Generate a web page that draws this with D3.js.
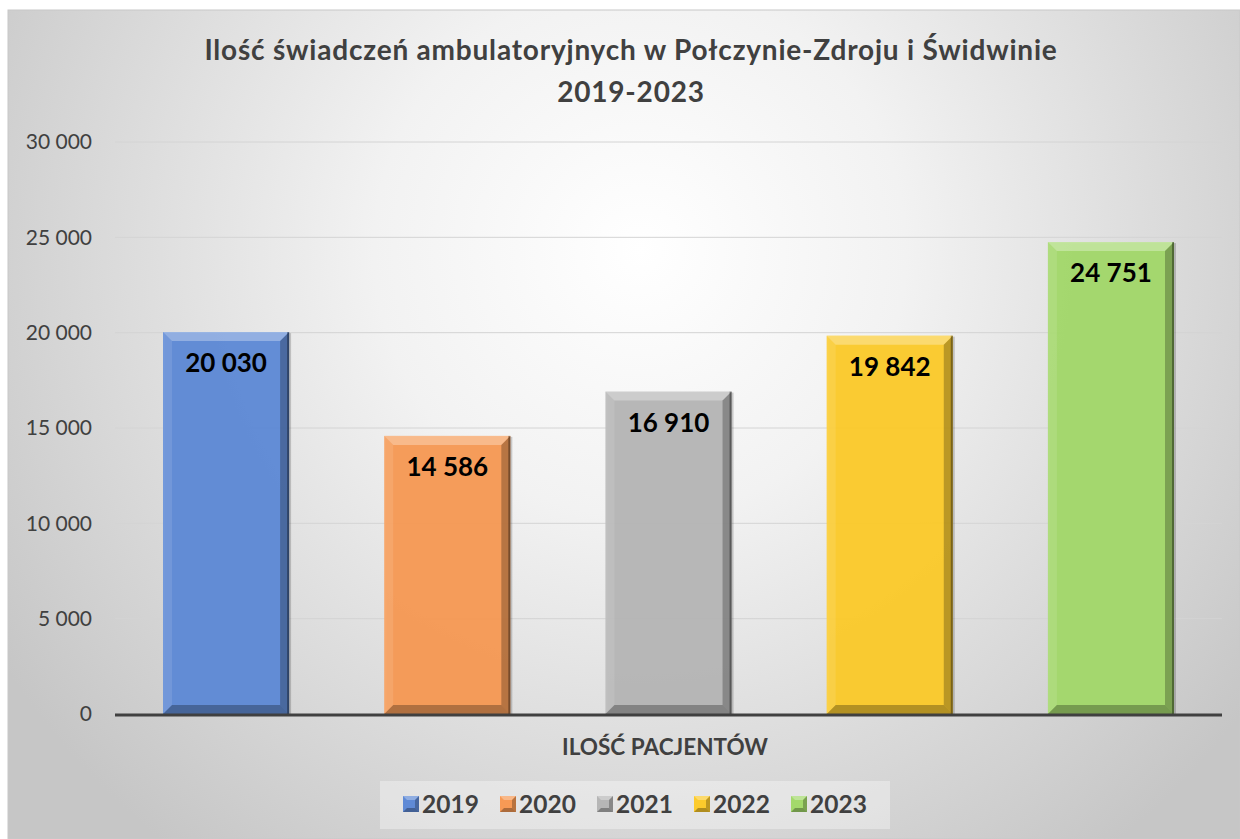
<!DOCTYPE html>
<html lang="pl">
<head>
  <meta charset="utf-8">
  <script src="https://d3js.org/d3.v7.min.js"></script>
  <style>
    html, body { margin: 0; padding: 0; background: #fff; }
    svg { display: block; font-family: Lato, "Open Sans", sans-serif; }
  </style>
</head>
<body>
<svg id="chart"></svg>
<script>
  // chart data
  var years = ['2019', '2020', '2021', '2022', '2023'];
  var values = [20030, 14586, 16910, 19842, 24751];
  var colors = ['#5f8ad6', '#f79a55', '#b6b6b6', '#fccb2c', '#a3d96b'];
  var yTicks = [0, 5000, 10000, 15000, 20000, 25000, 30000];
  var titleLines = ['Ilość świadczeń ambulatoryjnych w Połczynie-Zdroju i Świdwinie', '2019-2023'];
  var axisTitle = 'ILOŚĆ PACJENTÓW';

  var width = 1240, height = 839;
  var margin = { left: 115, right: 1222, top: 142, bottom: 714 };

  var pl = d3.formatLocale({ decimal: ',', thousands: ' ', grouping: [3], currency: ['', ' zł'] });
  var fmt = pl.format(',d');

  var svg = d3.select('#chart').attr('width', width).attr('height', height);
  var defs = svg.append('defs');

  var bg = defs.append('radialGradient').attr('id', 'bg')
    .attr('gradientUnits', 'userSpaceOnUse')
    .attr('cx', 640).attr('cy', 250).attr('r', 760);
  bg.append('stop').attr('offset', 0).attr('stop-color', '#ffffff');
  bg.append('stop').attr('offset', 0.35).attr('stop-color', '#f2f2f2');
  bg.append('stop').attr('offset', 1).attr('stop-color', '#c6c6c6');

  svg.append('rect')
    .attr('x', 8).attr('y', 10).attr('width', width - 8).attr('height', height - 10)
    .attr('fill', 'url(#bg)').attr('stroke', '#c8c8c8').attr('stroke-width', 1);

  var x = d3.scaleBand().domain(years)
    .range([margin.left, margin.right])
    .paddingInner(0.43).paddingOuter(0.217);
  var y = d3.scaleLinear().domain([0, 30000]).range([margin.bottom, margin.top]);

  // grid
  svg.append('g').selectAll('line').data(yTicks.slice(1)).join('line')
    .attr('x1', margin.left).attr('x2', margin.right)
    .attr('y1', function (d) { return y(d); }).attr('y2', function (d) { return y(d); })
    .attr('stroke', '#d4d4d4').attr('stroke-width', 1);

  // y axis labels
  var yAxis = d3.axisLeft(y).tickValues(yTicks).tickSize(0).tickPadding(0).tickFormat(fmt);
  var ya = svg.append('g').attr('transform', 'translate(92,0)').call(yAxis);
  ya.select('.domain').remove();
  ya.selectAll('text')
    .attr('font-family', 'Lato, "Open Sans", sans-serif')
    .attr('font-size', 21).attr('fill', '#404040');

  // bars with bevel
  var bev = 9;
  var bars = svg.append('g').selectAll('g').data(years).join('g');
  bars.each(function (d, i) {
    var g = d3.select(this);
    var x0 = x(d), w = x.bandwidth(), y0 = y(values[i]), h = y(0) - y(values[i]);
    var x1 = x0 + w, y1 = y0 + h;
    g.append('rect').attr('x', x0 + 2).attr('y', y0 + 1).attr('width', w).attr('height', h - 1)
      .attr('fill', '#000').attr('opacity', 0.18);
    g.append('rect').attr('x', x0).attr('y', y0).attr('width', w).attr('height', h)
      .attr('fill', colors[i]).attr('fill-opacity', 0.96);
    var poly = function (pts, fill, op) {
      g.append('polygon').attr('points', pts.map(function (p) { return p.join(','); }).join(' '))
        .attr('fill', fill).attr('opacity', op);
    };
    poly([[x0, y0], [x1, y0], [x1 - bev, y0 + bev], [x0 + bev, y0 + bev]], '#fff', 0.3);
    poly([[x0, y0], [x0 + bev, y0 + bev], [x0 + bev, y1 - bev], [x0, y1]], '#fff', 0.1);
    poly([[x1, y0], [x1, y1], [x1 - bev, y1 - bev], [x1 - bev, y0 + bev]], '#000', 0.25);
    poly([[x0, y1], [x0 + bev, y1 - bev], [x1 - bev, y1 - bev], [x1, y1]], '#000', 0.28);
    g.append('rect').attr('x', x1 - 2).attr('y', y0).attr('width', 2).attr('height', h)
      .attr('fill', '#000').attr('opacity', 0.35);
    g.append('text')
      .attr('x', x0 + w / 2).attr('y', y0 + 40)
      .attr('text-anchor', 'middle')
      .attr('font-size', 26).attr('font-weight', 'bold').attr('fill', '#000')
      .text(fmt(values[i]));
  });

  // baseline
  svg.append('line')
    .attr('x1', margin.left).attr('x2', margin.right)
    .attr('y1', y(0) + 1).attr('y2', y(0) + 1)
    .attr('stroke', '#404040').attr('stroke-width', 3);

  // title
  svg.append('g').selectAll('text').data(titleLines).join('text')
    .attr('x', 631).attr('y', function (d, i) { return 60 + i * 42; })
    .attr('text-anchor', 'middle')
    .attr('font-size', 28).attr('letter-spacing', 0.8)
    .attr('font-weight', 'bold').attr('fill', '#404040')
    .text(function (d) { return d; });

  // axis title
  svg.append('text')
    .attr('x', 665).attr('y', 755).attr('text-anchor', 'middle')
    .attr('font-size', 22.5).attr('font-weight', 'bold').attr('fill', '#404040')
    .text(axisTitle);

  // legend
  svg.append('rect').attr('x', 380).attr('y', 781).attr('width', 510).attr('height', 48)
    .attr('fill', '#fff').attr('opacity', 0.35);
  var leg = svg.append('g').selectAll('g').data(years).join('g')
    .attr('transform', function (d, i) { return 'translate(' + (403 + i * 97) + ',796)'; });
  leg.each(function (d, i) {
    var g = d3.select(this);
    var s = 16, b = 4;
    g.append('rect').attr('width', s).attr('height', s).attr('fill', colors[i]);
    g.append('polygon').attr('points', [[0, 0], [s, 0], [s - b, b], [b, b]].join(' ')).attr('fill', '#fff').attr('opacity', 0.3);
    g.append('polygon').attr('points', [[s, 0], [s, s], [s - b, s - b], [s - b, b]].join(' ')).attr('fill', '#000').attr('opacity', 0.25);
    g.append('polygon').attr('points', [[0, s], [b, s - b], [s - b, s - b], [s, s]].join(' ')).attr('fill', '#000').attr('opacity', 0.3);
    g.append('text').attr('x', 19).attr('y', 17)
      .attr('font-size', 24.5).attr('font-weight', 'bold').attr('fill', '#404040')
      .text(d);
  });
</script>
</body>
</html>
